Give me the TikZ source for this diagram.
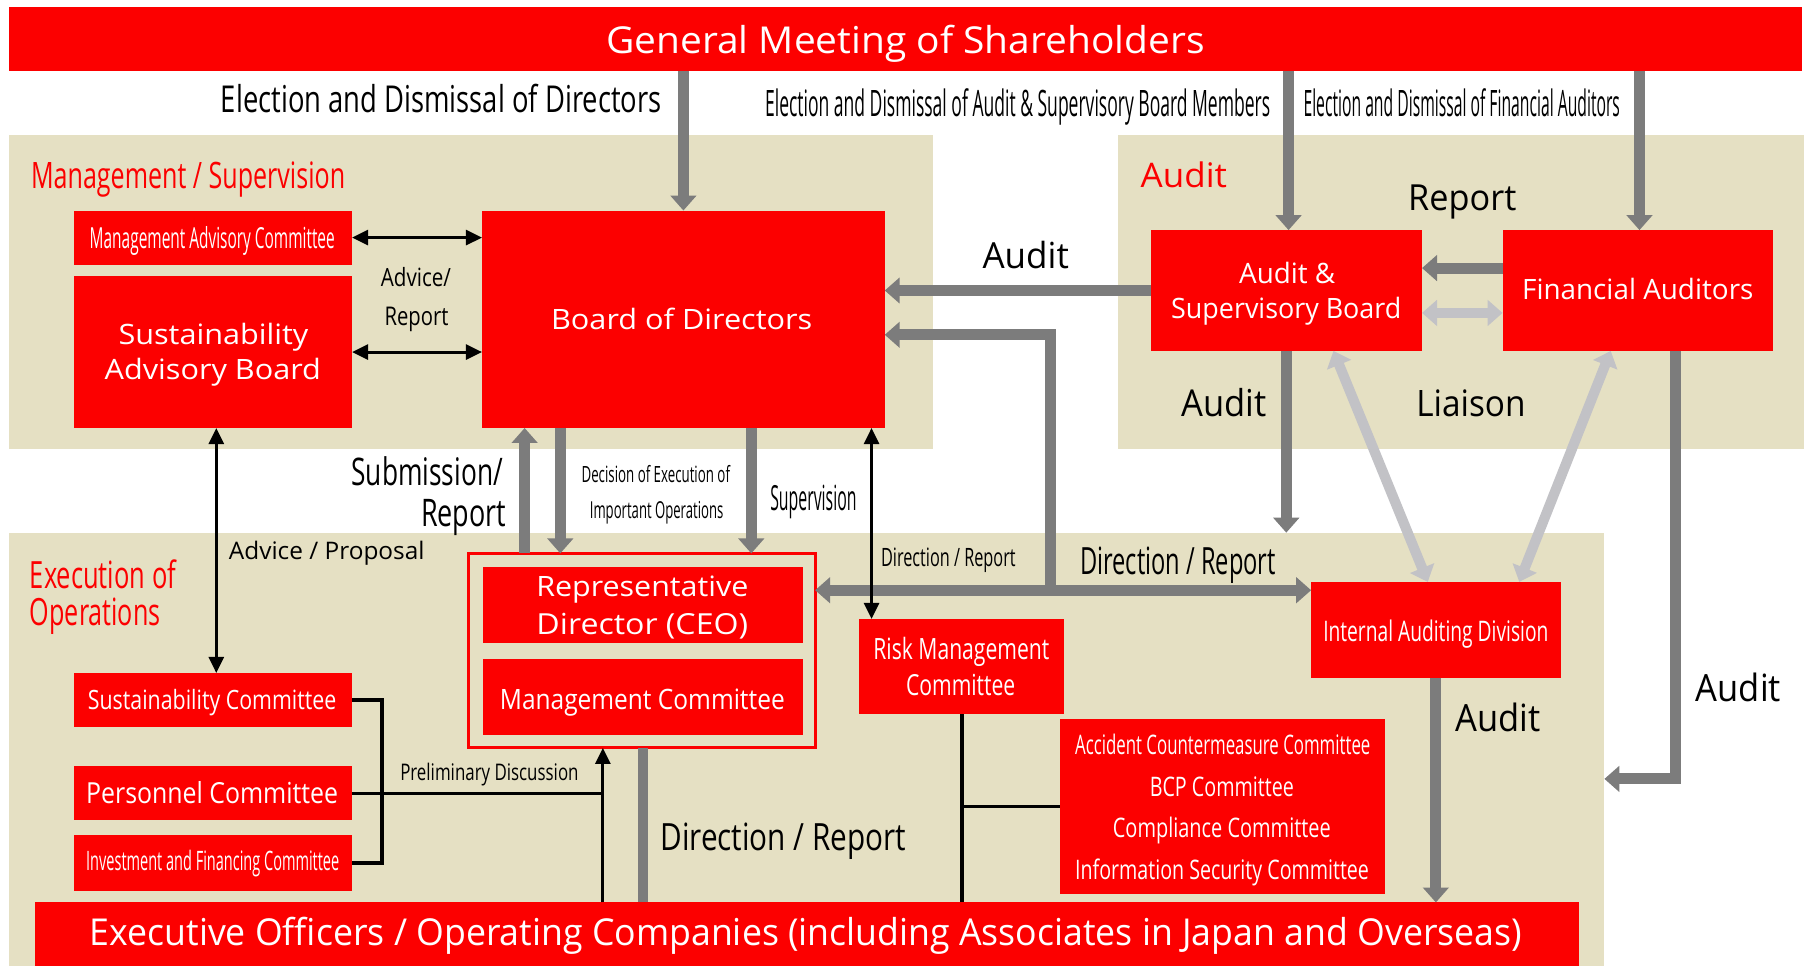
\documentclass[tikz,border=0pt]{standalone}
\usepackage{fontspec}
\setmainfont{Open Sans}
\usepackage{graphicx}
\usetikzlibrary{arrows.meta}

\definecolor{beige}{RGB}{229,224,195}
\definecolor{cred}{RGB}{252,0,0}
\definecolor{dgray}{RGB}{124,124,124}
\definecolor{lgray}{RGB}{194,194,198}

\newsavebox\fitbox
\newdimen\fitdim
\newcommand\tx[3]{%
  \pgfmathsetmacro\fsz{#1*0.5/0.714}%
  \fontsize{\fsz pt}{\fsz pt}\selectfont
  \sbox\fitbox{#3}%
  \fitdim=\wd\fitbox
  \pgfmathsetmacro\sx{#2*0.5/\fitdim}%
  \scalebox{\sx}[1]{\usebox\fitbox}}

% name, x, baseline, cap, width, colour, text
\newcommand\T[7]{\node[txt,text=#6] (#1) at (#2,#3) {\tx{#4}{#5}{#7}};}
% style, name, x1, y1, x2, y2
\newcommand\B[6]{\node[#1,minimum width={(#5-#3)*0.5pt},minimum height={(#6-#4)*0.5pt}] (#2) at ({(#3+#5)/2},{(#4+#6)/2}) {};}

\tikzset{
  txt/.style={inner sep=0pt,outer sep=0pt,anchor=base},
  rbox/.style={rectangle,fill=cred,draw=none,inner sep=0pt,outer sep=0pt},
  panel/.style={rectangle,fill=beige,draw=none,inner sep=0pt,outer sep=0pt},
  framebox/.style={rectangle,fill=beige,draw=cred,line width=1.2pt,inner sep=0pt,outer sep=0pt},
  gtip/.tip={Triangle[width=11pt,length=6.5pt]},
  btip/.tip={Triangle[width=6.5pt,length=7pt]},
  garrow/.style={draw=dgray,line width=4.8pt,-gtip},
  gdarrow/.style={draw=dgray,line width=4.8pt,gtip-gtip},
  gline/.style={draw=dgray,line width=4.4pt},
  lgdarrow/.style={draw=lgray,line width=4.4pt,gtip-gtip},
  barrow/.style={draw=black,line width=1.3pt,-btip},
  bdarrow/.style={draw=black,line width=1.3pt,btip-btip},
  bline/.style={draw=black,line width=1.5pt},
}

\begin{document}
\begin{tikzpicture}[x=0.5pt,y=-0.5pt]
\fill[white] (0,0) rectangle (1568,840);
\useasboundingbox (0,0) rectangle (1568,840);

% panels
\B{panel}{pmgmt}{8}{117}{811}{390}
\B{panel}{paudit}{971.5}{117}{1568}{390}
\B{panel}{exe}{8}{463}{1394.5}{840}

% boxes
\B{rbox}{gm}{8}{6}{1566}{62}
\B{rbox}{mac}{64}{183}{306}{230}
\B{rbox}{sab}{64}{240}{306}{372}
\B{rbox}{bod}{419}{183}{769}{372}
\B{rbox}{asb}{1000}{200}{1236}{305}
\B{rbox}{fa}{1306}{200}{1541}{305}
\B{framebox}{frame}{407}{481}{708.5}{650}
\B{rbox}{rep}{420}{493}{698}{559}
\B{rbox}{mc}{420}{573}{698}{639}
\B{rbox}{rmc}{747}{538}{925}{621}
\B{rbox}{iad}{1139.6}{505.8}{1356.4}{589}
\B{rbox}{cmt}{921}{625}{1204}{777}
\B{rbox}{sc}{64}{585}{306}{632}
\B{rbox}{pc}{64}{666}{306}{713}
\B{rbox}{ifc}{64}{726}{306}{774}
\B{rbox}{exec}{30.5}{784.4}{1372}{840}

% connectors
\draw[garrow] (gm.south -| bod.north) -- (bod.north);
\draw[garrow] (gm.south -| 1120,0) -- (asb.north -| 1120,0);
\draw[garrow] (gm.south -| 1425,0) -- (fa.north -| 1425,0);
\draw[bdarrow] (mac.east) -- (mac.east -| bod.west);
\draw[bdarrow] (sab.east) -- (sab.east -| bod.west);
\draw[garrow] (asb.west) -- (asb.west -| bod.east);
\draw[garrow] (fa.west |- 0,233) -- (asb.east |- 0,233);
\draw[lgdarrow] (asb.east |- 0,272) -- (fa.west |- 0,272);
\draw[garrow] (asb.south) -- (asb.south |- exe.north);
\draw[lgdarrow] (asb.south -| 1159,0) -- (iad.north -| 1241,0);
\draw[lgdarrow] (fa.south -| 1400,0) -- (iad.north -| 1320.5,0);
\draw[garrow] (fa.south -| 1456,0) |- (exe.east |- 0,677);
\draw[garrow] (iad.south) -- (iad.south |- exec.north);
\coordinate (jn) at (913,513);
\draw[garrow] (jn) |- (bod.east |- 0,291);
\draw[gdarrow] (frame.east |- jn) -- (iad.west |- jn);
\draw[bdarrow] (bod.south -| 757.5,0) -- (rmc.north -| 757.5,0);
\draw[bdarrow] (sab.south -| 188,0) -- (sc.north -| 188,0);
\draw[garrow] (frame.north -| 456,0) -- (bod.south -| 456,0);
\draw[garrow] (bod.south -| 487,0) -- (frame.north -| 487,0);
\draw[garrow] (bod.south -| 653,0) -- (frame.north -| 653,0);
\draw[bline] (sc.east) -- ++(26,0) |- (ifc.east);
\draw[bline] (pc.east) -- (pc.east -| 524,0);
\draw[barrow] (exec.north -| 524,0) -- (frame.south -| 524,0);
\draw[gline] (frame.south -| 558.5,0) -- (exec.north -| 558.5,0);
\draw[bline] (rmc.south) -- (rmc.south |- exec.north);
\draw[bline] (rmc.south |- cmt.west) -- (cmt.west);

% texts
\T{t1}{787}{46.4}{23}{520}{white}{General Meeting of Shareholders}
\T{t2}{383.5}{98}{23}{383}{black}{Election and Dismissal of Directors}
\T{t3}{884.5}{101}{22.6}{439}{black}{Election and Dismissal of Audit \& Supervisory Board Members}
\T{t4}{1270.5}{101}{22.6}{275}{black}{Election and Dismissal of Financial Auditors}
\T{t5}{163.5}{163.7}{22.6}{273}{cred}{Management / Supervision}
\T{t6}{1029}{163}{21}{75}{cred}{Audit}
\T{t7}{184.5}{215.8}{18}{213}{white}{Management Advisory Committee}
\T{t8}{185.5}{299.8}{17.4}{165}{white}{Sustainability}
\T{t9}{185}{330}{17.4}{188}{white}{Advisory Board}
\T{t10}{592.5}{286.8}{17.4}{227}{white}{Board of Directors}
\T{t11}{361.5}{248.6}{15.6}{61}{black}{Advice/}
\T{t12}{362}{282.5}{16}{55.5}{black}{Report}
\T{t13}{1118.8}{246.3}{17.4}{83.5}{white}{Audit \&}
\T{t14}{1118}{276.7}{17.4}{200}{white}{Supervisory Board}
\T{t15}{1423.5}{260.7}{17.4}{201}{white}{Financial Auditors}
\T{t16}{1271}{183.1}{22.3}{94}{black}{Report}
\T{t17}{891.5}{233.2}{22.3}{75}{black}{Audit}
\T{t18}{1064}{362.1}{23}{74}{black}{Audit}
\T{t19}{1278.5}{362.1}{22.6}{95}{black}{Liaison}
\T{t20}{371.3}{421.9}{23.6}{131.5}{black}{Submission/}
\T{t21}{403}{457.4}{23.6}{74}{black}{Report}
\T{t22}{570}{419.5}{13.9}{129}{black}{Decision of Execution of}
\T{t23}{570.7}{450.5}{14.5}{116}{black}{Important Operations}
\T{t24}{707}{443.9}{21.5}{75}{black}{Supervision}
\T{t25}{284}{486.1}{15}{170}{black}{Advice / Proposal}
\T{t26}{89.5}{511.9}{23.3}{127}{cred}{Execution of}
\T{t27}{82.8}{543.7}{23.3}{113.6}{cred}{Operations}
\T{t28}{558.3}{518.6}{17.4}{184.4}{white}{Representative}
\T{t29}{558.3}{551.2}{18}{184}{white}{Director (CEO)}
\T{t30}{558.3}{616.5}{17.4}{247.6}{white}{Management Committee}
\T{t31}{184.4}{617}{16.5}{216}{white}{Sustainability Committee}
\T{t32}{184.4}{698}{18}{219}{white}{Personnel Committee}
\T{t33}{184.9}{757}{16.6}{220}{white}{Investment and Financing Committee}
\T{t34}{425.4}{678.4}{14.2}{155}{black}{Preliminary Discussion}
\T{t35}{680.8}{739}{23.3}{213.6}{black}{Direction / Report}
\T{t36}{700.5}{821.6}{23}{1245}{white}{Executive Officers / Operating Companies (including Associates in Japan and Overseas)}
\T{t37}{835.6}{573.3}{18.2}{153}{white}{Risk Management}
\T{t38}{835}{604.2}{18}{95}{white}{Committee}
\T{t39}{1248}{557.3}{17.6}{195.7}{white}{Internal Auditing Division}
\T{t40}{1062.8}{655.7}{16.7}{256.6}{white}{Accident Countermeasure Committee}
\T{t41}{1062}{692}{16.7}{125.3}{white}{BCP Committee}
\T{t42}{1062}{727.8}{16.7}{189.4}{white}{Compliance Committee}
\T{t43}{1062.2}{764}{16.7}{255.4}{white}{Information Security Committee}
\T{t44}{824.3}{492.8}{15.7}{117}{black}{Direction / Report}
\T{t45}{1023.9}{499.7}{23.3}{170}{black}{Direction / Report}
\T{t46}{1302}{636}{23.3}{74}{black}{Audit}
\T{t47}{1511}{609.7}{23.3}{74}{black}{Audit}
\end{tikzpicture}
\end{document}
